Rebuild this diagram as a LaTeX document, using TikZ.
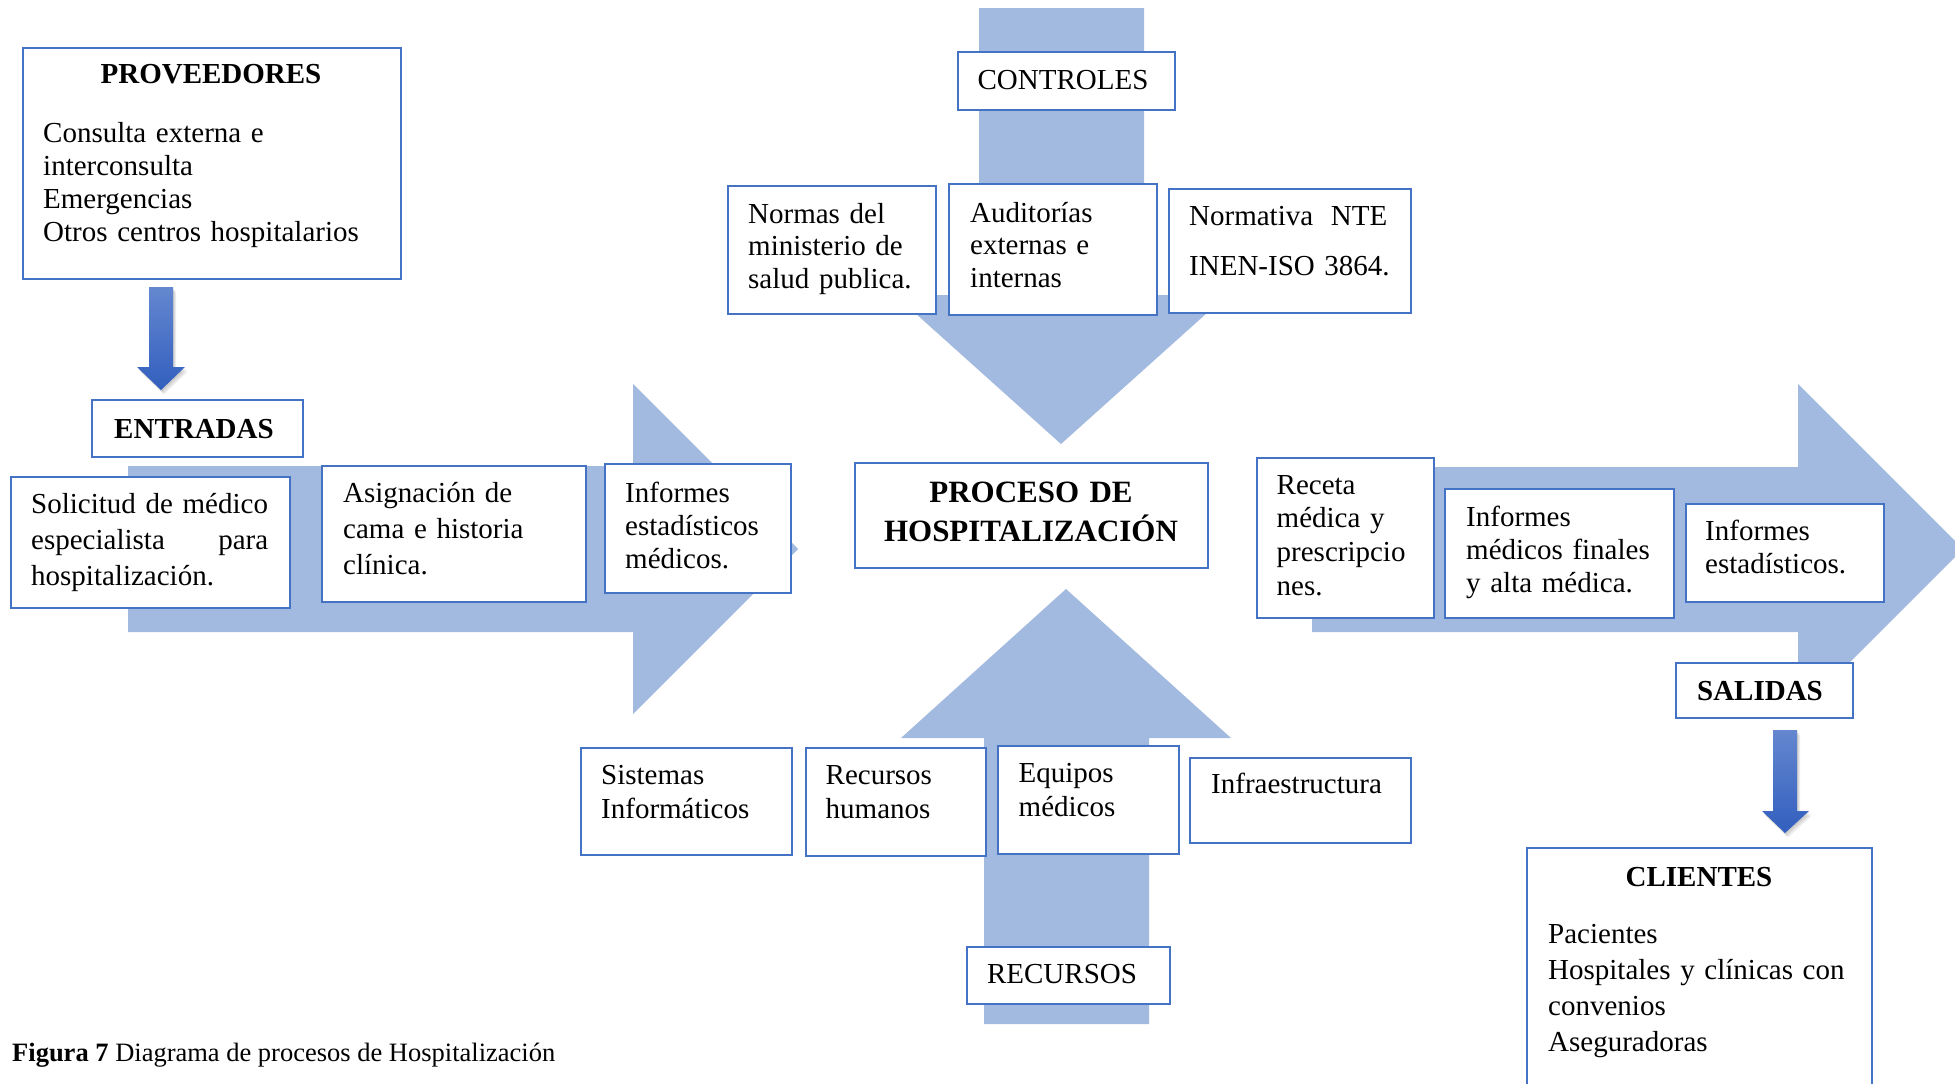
\documentclass[tikz,border=0pt]{standalone}
\usepackage{fontspec}
\setmainfont{Liberation Serif}
\usetikzlibrary{calc}
\definecolor{frameblue}{RGB}{68,114,196}
\definecolor{flowblue}{RGB}{162,185,224}
\definecolor{darktop}{RGB}{100,135,207}
\definecolor{darkbot}{RGB}{50,95,190}
\lineskiplimit=-30pt
\tikzset{
  card/.style={draw=frameblue, line width=2.4pt, fill=white, inner sep=0pt, anchor=north west},
  body/.style={inner sep=0pt, anchor=base west, align=left,
    font=\fontsize{29}{33}\selectfont},
  title/.style={inner sep=0pt, anchor=base, font=\fontsize{29}{33}\selectfont\bfseries},
  tag/.style={inner sep=0pt, anchor=base, font=\fontsize{29}{33}\selectfont},
  flow/.style={fill=flowblue},
  pointer/.style={top color=darktop, bottom color=darkbot},
  pshadow/.style={fill=black, opacity=0.07},
}
\begin{document}
\begin{tikzpicture}[x=1pt,y=-1pt]
\useasboundingbox (0,0) rectangle (1955,1084);
\clip (0,0) rectangle (1955,1084);
\fill[white] (0,0) rectangle (1955,1084);

% wide flow arrows
\fill[flow] (128,466) -- (633,466) -- (633,384) -- (798,549) -- (633,714) -- (633,632) -- (128,632) -- cycle;
\fill[flow] (1312,467) -- (1798,467) -- (1798,384) -- (1963,549) -- (1798,714) -- (1798,632) -- (1312,632) -- cycle;
\fill[flow] (979,8) -- (1144,8) -- (1144,295) -- (1227,295) -- (1061,444) -- (895,295) -- (979,295) -- cycle;
\fill[flow] (984,1024) -- (1149,1024) -- (1149,738) -- (1231,738) -- (1066,589) -- (901,738) -- (984,738) -- cycle;

% suppliers
\node[card, minimum width=378pt, minimum height=231pt] (prov) at (22,47) {};
\node[title] (provT) at (211,83) {PROVEEDORES};
\node[body, text width=350pt, font=\fontsize{29}{33.3}\selectfont] (provL) at (43,142)
  {Consulta externa e\\ interconsulta\\ Emergencias\\ Otros centros hospitalarios};

% small down arrow: suppliers -> inputs
\foreach \s in {1,2,3}
  \fill[pshadow] ($(149,287)+(\s,1.5*\s)$) -- ++(24,0) -- ++(0,80) -- ++(12,0) -- ++(-24,23) -- ++(-24,-23) -- ++(12,0) -- cycle;
\path[pointer] (149,287) -- (173,287) -- (173,367) -- (185,367) -- (161,390) -- (137,367) -- (149,367) -- cycle;

% inputs
\node[card, minimum width=211pt, minimum height=57pt] (entr) at (91,399) {};
\node[title] (entrT) at (194,438) {ENTRADAS};

\node[card, minimum width=279pt, minimum height=131pt] (sol) at (10,476) {};
\node[body, text width=237pt, font=\fontsize{29}{36}\selectfont] (solT) at (31,513)
  {Solicitud de médico\\ especialista\hfill para\\ hospitalización.};

\node[card, minimum width=264pt, minimum height=136pt] (asig) at (321,465) {};
\node[body, text width=225pt, font=\fontsize{29}{36}\selectfont] (asigT) at (343,502)
  {Asignación de\\ cama e historia\\ clínica.};

\node[card, minimum width=186pt, minimum height=129pt] (infm) at (604,463) {};
\node[body, text width=160pt] (infmT) at (625,502)
  {Informes\\ estadísticos\\ médicos.};

% controls
\node[card, minimum width=217pt, minimum height=58pt] (ctrl) at (957,51) {};
\node[tag] (ctrlT) at (1063,89) {CONTROLES};

\node[card, minimum width=208pt, minimum height=128pt] (norm) at (727,185) {};
\node[body, text width=185pt, font=\fontsize{29}{32.5}\selectfont] (normT) at (748,223)
  {Normas del\\ ministerio de\\ salud publica.};

\node[card, minimum width=208pt, minimum height=131pt] (audi) at (948,183) {};
\node[body, text width=185pt, font=\fontsize{29}{32.5}\selectfont] (audiT) at (970,222)
  {Auditorías\\ externas e\\ internas};

\node[card, minimum width=242pt, minimum height=124pt] (nte) at (1168,188) {};
\node[body, text width=215pt, font=\fontsize{29}{50}\selectfont] (nteT) at (1189,225)
  {\makebox[198pt][s]{Normativa\hfill NTE}\\ INEN-ISO~3864.};

% process
\node[card, minimum width=353pt, minimum height=105pt] (proc) at (854,462) {};
\node[inner sep=0pt, anchor=base, align=center, text width=340pt,
  font=\fontsize{31}{39}\selectfont\bfseries] (procT) at (1031,502)
  {PROCESO DE\\ HOSPITALIZACIÓN};

% resources
\node[card, minimum width=211pt, minimum height=107pt] (sist) at (580,747) {};
\node[body, text width=185pt, font=\fontsize{29}{34}\selectfont] (sistT) at (601,784)
  {Sistemas\\ Informáticos};

\node[card, minimum width=180pt, minimum height=108pt] (rrhh) at (805,747) {};
\node[body, text width=150pt, font=\fontsize{29}{34}\selectfont] (rrhhT) at (825.5,784)
  {Recursos\\ humanos};

\node[card, minimum width=181pt, minimum height=108pt] (equi) at (997,745) {};
\node[body, text width=150pt, font=\fontsize{29}{34}\selectfont] (equiT) at (1018.5,782)
  {Equipos\\ médicos};

\node[card, minimum width=221pt, minimum height=85pt] (infra) at (1189,757) {};
\node[body, text width=195pt] (infraT) at (1211,793) {Infraestructura};

\node[card, minimum width=203pt, minimum height=57pt] (recu) at (966,946) {};
\node[tag] (recuT) at (1062,983) {RECURSOS};

% outputs
\node[card, minimum width=177pt, minimum height=160pt] (rece) at (1256,457) {};
\node[body, text width=150pt, font=\fontsize{29}{33.7}\selectfont] (receT) at (1276.5,494)
  {Receta\\ médica y\\ prescripcio\\ nes.};

\node[card, minimum width=229pt, minimum height=129pt] (finl) at (1444,488) {};
\node[body, text width=205pt] (finlT) at (1466,526)
  {Informes\\ médicos finales\\ y alta médica.};

\node[card, minimum width=198pt, minimum height=98pt] (esta) at (1685,503) {};
\node[body, text width=175pt] (estaT) at (1705,540)
  {Informes\\ estadísticos.};

\node[card, minimum width=177pt, minimum height=55pt] (sali) at (1675,662) {};
\node[title] (saliT) at (1760,700) {SALIDAS};

% small down arrow: outputs -> clients
\foreach \s in {1,2,3}
  \fill[pshadow] ($(1773,730)+(\s,1.5*\s)$) -- ++(24,0) -- ++(0,81) -- ++(12,0) -- ++(-24,22) -- ++(-23,-22) -- ++(11,0) -- cycle;
\path[pointer] (1773,730) -- (1797,730) -- (1797,811) -- (1809,811) -- (1785,833) -- (1762,811) -- (1773,811) -- cycle;

% clients
\node[card, minimum width=345pt, minimum height=260pt] (clie) at (1526,847) {};
\node[title] (clieT) at (1699,886) {CLIENTES};
\node[body, text width=320pt, font=\fontsize{29}{36.3}\selectfont] (clieL) at (1548,943)
  {Pacientes\\ Hospitales y clínicas con\\ convenios\\ Aseguradoras};

% caption
\node[inner sep=0pt, anchor=base west, font=\fontsize{26.5}{30}\selectfont] (capt) at (12,1061)
  {\textbf{Figura 7} Diagrama de procesos de Hospitalización};
\end{tikzpicture}
\end{document}
